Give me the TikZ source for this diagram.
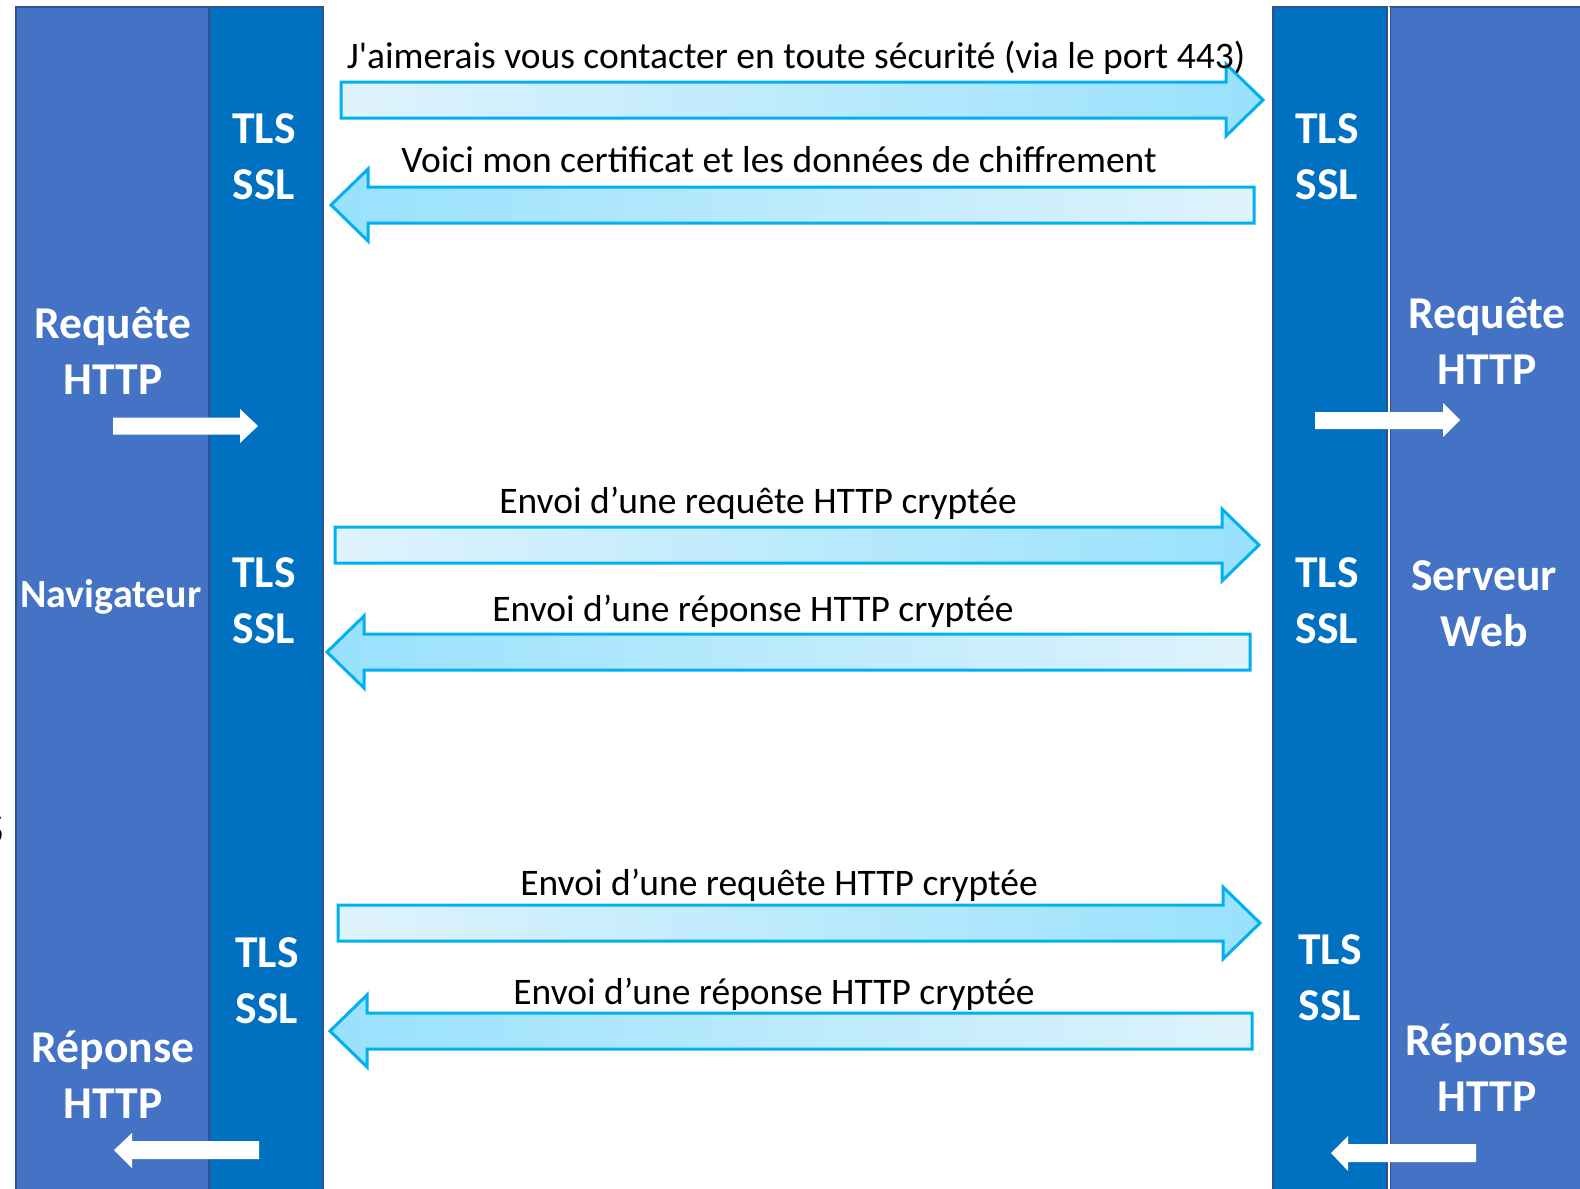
\documentclass[tikz,border=0pt]{standalone}
\usepackage{fontspec}
\setmainfont{Carlito}[Ligatures=TeXOff]
\definecolor{colLight}{HTML}{4472C4}
\definecolor{colDark}{HTML}{0070C0}
\definecolor{colEdge}{HTML}{2F528F}
\definecolor{arrLo}{HTML}{DFF3FD}
\definecolor{arrHi}{HTML}{98E1FC}
\definecolor{arrEdge}{HTML}{00B0F0}
\tikzset{
  lightcol/.style={fill=colLight, draw=colEdge, line width=1pt},
  darkcol/.style={fill=colDark, draw=colEdge, line width=1pt},
  bigarrow/.style={draw=arrEdge, line width=1.5pt, line join=miter},
  rightgrad/.style={bigarrow, left color=arrLo, right color=arrHi},
  leftgrad/.style={bigarrow, left color=arrHi, right color=arrLo},
  whitearrow/.style={fill=white, draw=none},
  msg/.style={anchor=base, inner sep=0pt, font=\fontsize{18.75}{22}\selectfont, text=black},
  wlabel/.style={align=center, inner sep=0pt, text=white, font=\bfseries\fontsize{22.8}{28}\selectfont},
  wsmall/.style={align=center, inner sep=0pt, text=white, font=\bfseries\fontsize{20}{24}\selectfont}
}
\begin{document}
\begin{tikzpicture}[x=0.5pt,y=-0.5pt]
\useasboundingbox (0,0) rectangle (1580,1189);
\fill[white] (0,0) rectangle (1580,1189);

% columns
\path[lightcol] (16,7) rectangle (209,1200);
\path[darkcol] (209,7) rectangle (323,1200);
\path[darkcol] (1273,7) rectangle (1387,1200);
\path[lightcol] (1390,7) rectangle (1600,1200);
\draw[white, line width=1pt] (1388.5,7) -- (1388.5,1200);

% partial clipped letter at left edge
\node[anchor=base east, inner sep=0pt, font=\fontsize{22}{28}\selectfont] (cut) at (4,843) {S};

% big arrows
\draw[rightgrad] (341,82) -- (1226,82) -- (1226,64) -- (1263,100) -- (1226,136) -- (1226,118) -- (341,118) -- cycle;
\draw[leftgrad] (1254,187) -- (368,187) -- (368,169) -- (331,205) -- (368,241) -- (368,223) -- (1254,223) -- cycle;
\draw[rightgrad] (335,527) -- (1222,527) -- (1222,509) -- (1259,545) -- (1222,581) -- (1222,563) -- (335,563) -- cycle;
\draw[leftgrad] (1250,634) -- (364,634) -- (364,616) -- (327,652) -- (364,688) -- (364,670) -- (1250,670) -- cycle;
\draw[rightgrad] (338,905) -- (1223,905) -- (1223,887) -- (1260,923) -- (1223,959) -- (1223,941) -- (338,941) -- cycle;
\draw[leftgrad] (1252,1013) -- (367,1013) -- (367,995) -- (330,1031) -- (367,1067) -- (367,1049) -- (1252,1049) -- cycle;

% message labels
\node[msg] (m1) at (796,68) {J'aimerais vous contacter en toute sécurité (via le port 443)};
\node[msg] (m2) at (779,172) {Voici mon certificat et les données de chiffrement};
\node[msg] (m3) at (758,513) {Envoi d’une requête HTTP cryptée};
\node[msg] (m4) at (753,621) {Envoi d’une réponse HTTP cryptée};
\node[msg] (m5) at (779,895) {Envoi d’une requête HTTP cryptée};
\node[msg] (m6) at (774,1004) {Envoi d’une réponse HTTP cryptée};

% TLS/SSL labels
\node[wlabel] (tlsL1) at (264,157) {TLS\\SSL};
\node[wlabel] (tlsR1) at (1327,157) {TLS\\SSL};
\node[wlabel] (tlsL2) at (264,601) {TLS\\SSL};
\node[wlabel] (tlsR2) at (1327,601) {TLS\\SSL};
\node[wlabel] (tlsL3) at (267,981) {TLS\\SSL};
\node[wlabel] (tlsR3) at (1330,978) {TLS\\SSL};

% side labels
\node[wlabel] (reqL) at (113,351) {Requête\\HTTP};
\node[wsmall] (nav) at (111,597) {Navigateur};
\node[wlabel] (repL) at (113,1075) {Réponse\\HTTP};
\node[wlabel] (reqR) at (1487,341) {Requête\\HTTP};
\node[wlabel] (srv) at (1484,604) {Serveur\\Web};
\node[wlabel] (repR) at (1487,1068) {Réponse\\HTTP};

% white arrows
\fill[whitearrow] (113,417.5) -- (240,417.5) -- (240,409) -- (258,426) -- (240,443) -- (240,434.5) -- (113,434.5) -- cycle;
\fill[whitearrow] (1315,412) -- (1443,412) -- (1443,403) -- (1460,420) -- (1443,437) -- (1443,429) -- (1315,429) -- cycle;
\fill[whitearrow] (259,1141) -- (132,1141) -- (132,1133) -- (114,1150) -- (132,1168) -- (132,1159) -- (259,1159) -- cycle;
\fill[whitearrow] (1476,1144) -- (1348,1144) -- (1348,1136) -- (1331,1153) -- (1348,1171) -- (1348,1162) -- (1476,1162) -- cycle;
\end{tikzpicture}
\end{document}
